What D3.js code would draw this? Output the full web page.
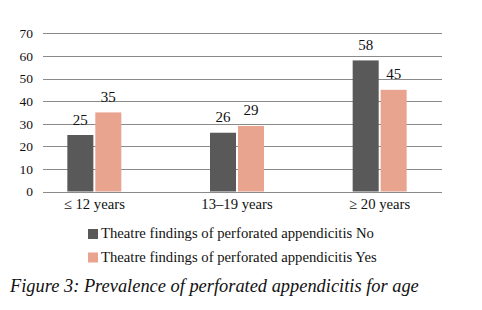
<!DOCTYPE html>
<html>
<head>
<meta charset="utf-8">
<script src="https://cdn.jsdelivr.net/npm/d3@7"></script>
<style>
  body { margin: 0; background: #fff; }
  svg text { font-family: "Liberation Serif", "Times New Roman", serif; fill: #111; }
</style>
</head>
<body>
<svg id="chart" width="482" height="310"></svg>
<script>
// chart data
const ageGroups = ['\u2264 12 years', '13\u201319 years', '\u2265 20 years'];
const perforatedNo = [25, 26, 58];
const perforatedYes = [35, 29, 45];
const seriesNames = ['Theatre findings of perforated appendicitis No',
                     'Theatre findings of perforated appendicitis Yes'];
const yTicks = [0, 10, 20, 30, 40, 50, 60, 70];
const caption = 'Figure 3: Prevalence of perforated appendicitis for age';

const colors = ['#595959', '#e8a48f'];

const svg = d3.select('#chart');

// plot box
const plotLeft = 43, plotRight = 442, plotTop = 33.3, plotBottom = 191.5;

const y = d3.scaleLinear().domain([0, 70]).range([plotBottom, plotTop]);
const x = d3.scaleBand().domain(ageGroups).range([23, 451]);
const xSub = d3.scaleBand().domain([0, 1]).range([-27, 27]).paddingInner(0.07);

// gridlines
svg.append('g').selectAll('line')
    .data(yTicks)
    .join('line')
    .attr('x1', plotLeft).attr('x2', plotRight)
    .attr('y1', d => Math.round(y(d)) + 0.5).attr('y2', d => Math.round(y(d)) + 0.5)
    .attr('stroke', '#8a8a8a')
    .attr('stroke-width', 1);

// y tick labels
svg.append('g').selectAll('text')
    .data(yTicks)
    .join('text')
    .attr('x', 33)
    .attr('y', d => y(d) + 4.8)
    .attr('text-anchor', 'end')
    .style('font-size', '13.5px')
    .text(d => d);

// bars, one group per age band
const series = [perforatedNo, perforatedYes];
const groups = svg.append('g').selectAll('g')
    .data(ageGroups)
    .join('g')
    .attr('transform', d => 'translate(' + (x(d) + x.bandwidth() / 2) + ',0)');

groups.selectAll('rect')
    .data((d, i) => series.map((s, k) => ({k: k, v: s[i]})))
    .join('rect')
    .attr('x', d => xSub(d.k))
    .attr('width', xSub.bandwidth())
    .attr('y', d => y(d.v))
    .attr('height', d => y(0) - y(d.v))
    .attr('fill', d => colors[d.k]);

// value labels above bars
groups.selectAll('text')
    .data((d, i) => series.map((s, k) => ({k: k, v: s[i]})))
    .join('text')
    .attr('x', d => xSub(d.k) + xSub.bandwidth() / 2)
    .attr('y', d => y(d.v) - 10.5)
    .attr('text-anchor', 'middle')
    .style('font-size', '15px')
    .text(d => d.v);

// category labels
svg.append('g').selectAll('text')
    .data(ageGroups)
    .join('text')
    .attr('x', d => x(d) + x.bandwidth() / 2)
    .attr('y', 209)
    .attr('text-anchor', 'middle')
    .style('font-size', '14.7px')
    .text(d => d);

// legend
const legend = svg.append('g').selectAll('g')
    .data(seriesNames)
    .join('g')
    .attr('transform', (d, i) => 'translate(88,' + (229 + i * 23.5) + ')');

legend.append('rect')
    .attr('width', 10).attr('height', 10)
    .attr('fill', (d, i) => colors[i]);

legend.append('text')
    .attr('x', 13)
    .attr('y', 9)
    .style('font-size', '14.7px')
    .text(d => d);

// figure caption
svg.append('text')
    .attr('x', 10)
    .attr('y', 292)
    .style('font-size', '18.4px')
    .style('font-style', 'italic')
    .text(caption);
</script>
</body>
</html>
